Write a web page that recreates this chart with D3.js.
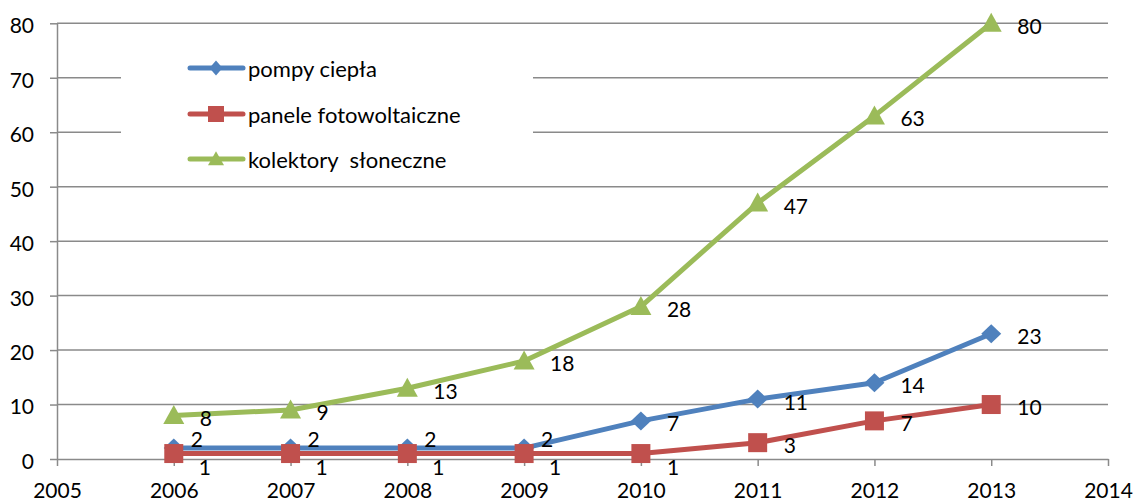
<!DOCTYPE html>
<html>
<head>
<meta charset="utf-8">
<script src="https://cdn.jsdelivr.net/npm/d3@7"></script>
<style>
  html, body { margin: 0; padding: 0; background: #fff; }
  svg { display: block; font-family: Lato, "Open Sans", sans-serif; }
</style>
</head>
<body>
<svg id="chart" width="1135" height="502"></svg>
<script>
// ---- data ----
const years = [2006, 2007, 2008, 2009, 2010, 2011, 2012, 2013];
const pompyCiepla = [2, 2, 2, 2, 7, 11, 14, 23];
const paneleFoto = [1, 1, 1, 1, 1, 3, 7, 10];
const kolektory = [8, 9, 13, 18, 28, 47, 63, 80];
const seriesNames = ["pompy ciepła", "panele fotowoltaiczne", "kolektory  słoneczne"];
const xTicks = [2005, 2006, 2007, 2008, 2009, 2010, 2011, 2012, 2013, 2014];
const yTicks = [0, 10, 20, 30, 40, 50, 60, 70, 80];

// ---- styles ----
const colors = ["#4F81BD", "#C0504D", "#9BBB59"];
const gridColor = "#8a8a8a";

// marker shapes (w = width, h = height)
function markerPath(type, w, h) {
  const p = d3.path();
  if (type === 0) { // diamond
    p.moveTo(0, -h / 2); p.lineTo(w / 2, 0); p.lineTo(0, h / 2); p.lineTo(-w / 2, 0); p.closePath();
  } else if (type === 1) { // square
    p.rect(-w / 2, -h / 2, w, h);
  } else { // triangle
    p.moveTo(0, -h * 0.55); p.lineTo(w / 2, h * 0.45); p.lineTo(-w / 2, h * 0.45); p.closePath();
  }
  return p.toString();
}
const markerDims = [[20, 19], [19, 19], [21, 19]];
const legendDims = [[13, 15], [16, 16], [16, 14]];

const svg = d3.select("#chart");
const x = d3.scaleLinear().domain([2005, 2014]).range([57, 1108]);
const y = d3.scaleLinear().domain([0, 80]).range([459, 23.3]);

// gridlines
svg.append("g").selectAll("line").data(yTicks.filter(v => v > 0)).join("line")
  .attr("x1", x(2005)).attr("x2", x(2014))
  .attr("y1", d => y(d)).attr("y2", d => y(d))
  .attr("stroke", gridColor).attr("stroke-width", 1.5);

// y axis
const yAxis = svg.append("g").attr("transform", `translate(${x(2005)},0)`)
  .call(d3.axisLeft(y).tickValues(yTicks).tickSize(7).tickSizeOuter(0).tickPadding(16));
// x axis
const xAxis = svg.append("g").attr("transform", `translate(0,${y(0)})`)
  .call(d3.axisBottom(x).tickValues(xTicks).tickFormat(d3.format("d")).tickSize(7).tickSizeOuter(0).tickPadding(15));
[yAxis, xAxis].forEach(a => {
  a.select(".domain").attr("stroke", gridColor).attr("stroke-width", 1.5);
  a.selectAll(".tick line").attr("stroke", gridColor).attr("stroke-width", 1.5);
  a.selectAll("text").attr("font-size", 21).attr("fill", "#000").attr("font-family", "Lato, sans-serif");
});
yAxis.selectAll("text").attr("dy", "0.45em");
xAxis.selectAll("text").attr("dy", "0.8em");

// legend box (covers gridlines)
const legend = svg.append("g");
legend.append("rect").attr("x", 121).attr("y", 36).attr("width", 412).attr("height", 142).attr("fill", "#fff");

const allSeries = [pompyCiepla, paneleFoto, kolektory];
const line = d3.line().x((d, i) => x(years[i])).y(d => y(d));

allSeries.forEach((vals, s) => {
  svg.append("path").datum(vals).attr("d", line)
    .attr("fill", "none").attr("stroke", colors[s]).attr("stroke-width", 5)
    .attr("stroke-linejoin", "round");
});
allSeries.forEach((vals, s) => {
  svg.append("g").selectAll("path").data(vals).join("path")
    .attr("transform", (d, i) => `translate(${x(years[i])},${y(d)})`)
    .attr("d", markerPath(s, markerDims[s][0], markerDims[s][1]))
    .attr("fill", colors[s]);
});

// data labels
allSeries.forEach((vals, s) => {
  svg.append("g").selectAll("text").data(vals).join("text")
    .attr("x", (d, i) => {
      const otherClose = allSeries.some((o, k) => k !== s && Math.abs(o[i] - d) < 2);
      return x(years[i]) + (otherClose ? (s === 0 ? 17 : 25) : 26);
    })
    .attr("y", (d, i) => {
      const otherClose = allSeries.some((o, k) => k !== s && Math.abs(o[i] - d) < 2);
      let dy = 2;
      if (s === 0 && otherClose) dy = -10;
      if (s === 1 && d <= 1) dy = 13;
      return y(d) + dy;
    })
    .attr("dominant-baseline", "central")
    .attr("font-size", 21).attr("fill", "#000")
    .text(d => d);
});

// legend entries
const legY = [68, 114, 159];
seriesNames.forEach((name, s) => {
  const g = legend.append("g").attr("transform", `translate(0,${legY[s]})`);
  g.append("line").attr("x1", 190).attr("x2", 243).attr("y1", 0).attr("y2", 0)
    .attr("stroke", colors[s]).attr("stroke-width", 5).attr("stroke-linecap", "round");
  g.append("path").attr("transform", "translate(216,0)")
    .attr("d", markerPath(s, legendDims[s][0], legendDims[s][1]))
    .attr("fill", colors[s]);
  g.append("text").attr("x", 248).attr("y", 0).attr("dominant-baseline", "central")
    .attr("font-size", 22).attr("fill", "#000")
    .style("white-space", "pre")
    .text(name);
});
</script>
</body>
</html>
